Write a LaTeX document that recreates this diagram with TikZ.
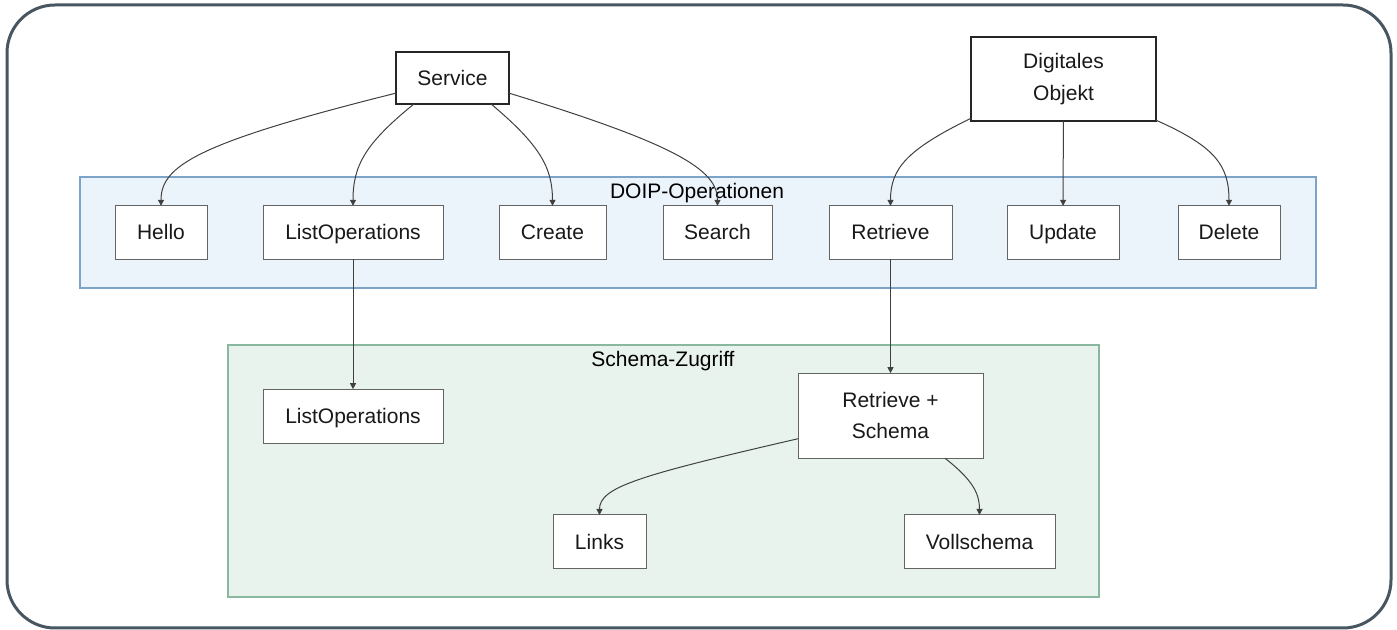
\documentclass[tikz,border=0pt]{standalone}
\usepackage{fontspec}
\setmainfont{Liberation Sans}
\usepackage{xcolor}
\usetikzlibrary{positioning, arrows.meta}

\definecolor{framecol}{RGB}{72,86,97}
\definecolor{doipfill}{RGB}{236,244,251}
\definecolor{doipline}{RGB}{125,163,200}
\definecolor{schemafill}{RGB}{232,243,238}
\definecolor{schemaline}{RGB}{137,184,158}
\definecolor{boxgray}{RGB}{100,100,100}

\tikzset{
  outerframe/.style={draw=framecol, line width=2.25pt, rounded corners=36pt},
  cluster/.style={line width=1pt},
  opbox/.style={draw=boxgray, line width=0.75pt, fill=white, minimum height=40pt,
    inner sep=0pt, outer sep=0pt, align=center, text=black!90},
  onebox/.style={opbox, text height=12pt, text depth=0.8pt},
  topbox/.style={opbox, draw=black!85, line width=1.5pt},
  flow/.style={draw=black!75, line width=0.75pt, -{Triangle[length=4.5pt,width=4.5pt]}}
}

\begin{document}
\begin{tikzpicture}[x=0.75pt, y=0.75pt, font=\fontsize{15.75}{23.6}\selectfont]
	\useasboundingbox (0,0) rectangle (1397,-630);
	\draw[outerframe] (7,-5) rectangle (1391,-628);
%
	% the two groups
	\draw[cluster, draw=doipline, fill=doipfill] (80,-177) rectangle (1316,-288);
	\node (doiptitle) at (697,-193) {DOIP-Operationen};
	\draw[cluster, draw=schemaline, fill=schemafill] (228,-345) rectangle (1099,-597);
	\node (schematitle) at (663,-361) {Schema-Zugriff};
%
	\node[topbox, onebox, draw=black!85, line width=1.5pt, minimum width=84.75pt, minimum height=39pt] (svc) at (452.5,-78) {Service};
	\node[topbox, minimum width=138.75pt, minimum height=63pt] (dobj) at (1063.5,-79) {Digitales\\Objekt};
%
	\node[onebox, minimum width=69pt] (hello) at (161,-232.5) {Hello};
	\node[onebox, minimum width=135pt, right=42pt of hello] (listop) {ListOperations};
	\node[onebox, minimum width=80.25pt, right=42pt of listop] (create) {Create};
	\node[onebox, minimum width=81.75pt, right=42.75pt of create] (search) {Search};
	\node[onebox, minimum width=92.25pt, right=42.75pt of search] (retr) {Retrieve};
	\node[onebox, minimum width=84pt, right=41.25pt of retr] (upd) {Update};
	\node[onebox, minimum width=76.5pt, right=44.25pt of upd] (del) {Delete};
%
	\node[onebox, minimum width=135pt, minimum height=40.5pt, below=97.5pt of listop] (listschema) {ListOperations};
	\node[opbox, minimum width=138.75pt, minimum height=63.75pt, below=85.5pt of retr] (retrschema) {Retrieve +\\Schema};
	\node[onebox, minimum width=69.75pt, minimum height=40.5pt] (links) at (599.5,-542) {Links};
	\node[onebox, minimum width=113.25pt, minimum height=40.5pt] (voll) at (979.5,-542) {Vollschema};
%
	\draw[flow] (svc.-165) .. controls +(194:205) and +(90:40) .. (hello.north);
	\draw[flow] (svc.-146) .. controls +(219:63) and +(90:40) .. (listop.north);
	\draw[flow] (svc.-34) .. controls +(-40:64) and +(90:38) .. (create.north);
	\draw[flow] (svc.-15) .. controls +(-17:175) and +(90:36) .. (search.north);
	\draw[flow] (dobj.-157) .. controls +(206:72) and +(90:37) .. (retr.north);
	\draw[flow] (dobj) -- (upd);
	\draw[flow] (dobj.-24) .. controls +(-24:64) and +(90:41) .. (del.north);
	\draw[flow] (listop) -- (listschema);
	\draw[flow] (retr) -- (retrschema);
	\draw[flow] (retrschema.-166) .. controls +(193:163) and +(90:28) .. (links.north);
	\draw[flow] (retrschema.-38) .. controls +(-38:36) and +(90:21) .. (voll.north);
\end{tikzpicture}
\end{document}
